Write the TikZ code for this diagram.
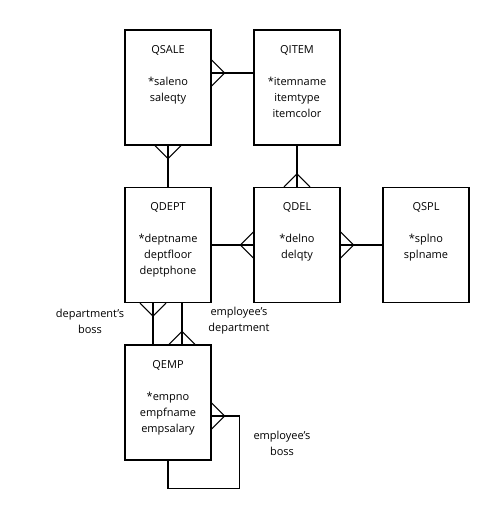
\documentclass[tikz,border=0pt]{standalone}
\usepackage{fontspec}
\setmainfont{Open Sans}
\usetikzlibrary{calc, positioning}

\tikzset{
  entity/.style={draw, line width=1.1pt, minimum width=86pt, minimum height=115pt, inner sep=0pt},
  etext/.style={anchor=north, align=center, inner sep=0pt, font=\fontsize{11}{16}\selectfont},
  link/.style={line width=1.1pt},
  rolelabel/.style={align=center, inner sep=0pt, font=\fontsize{11}{16}\selectfont}
}
\newcommand{\crowfoot}[2]{\draw[link, shift={(#1)}, rotate=#2] (0pt,13pt) -- (13pt,0pt) -- (0pt,-13pt);}

\begin{document}
\begin{tikzpicture}[x=1pt, y=-1pt]
  \useasboundingbox (0,0) rectangle (480,508);

  \node[entity] (qsale) at (168,87.5) {};
  \node[entity] (qitem) at (297,87.5) {};
  \node[entity] (qdept) at (168,245) {};
  \node[entity] (qdel)  at (297,245) {};
  \node[entity] (qspl)  at (426,245) {};
  \node[entity] (qemp)  at (168,402.5) {};

  \node[etext] (qsale-txt) at ([yshift=-15.5pt]qsale.north) {QSALE\\ \\*saleno\\saleqty};
  \node[etext] (qitem-txt) at ([yshift=-15.5pt]qitem.north) {QITEM\\ \\*itemname\\itemtype\\itemcolor};
  \node[etext] (qdept-txt) at ([yshift=-15.5pt]qdept.north) {QDEPT\\ \\*deptname\\deptfloor\\deptphone};
  \node[etext] (qdel-txt)  at ([yshift=-15.5pt]qdel.north)  {QDEL\\ \\*delno\\delqty};
  \node[etext] (qspl-txt)  at ([yshift=-15.5pt]qspl.north)  {QSPL\\ \\*splno\\splname};
  \node[etext] (qemp-txt)  at ([yshift=-15.5pt]qemp.north)  {QEMP\\ \\*empno\\empfname\\empsalary};

  \coordinate (sale-item) at ([yshift=14.5pt]qsale.east);
  \draw[link] (sale-item) -- (sale-item -| qitem.west);
  \crowfoot{sale-item}{0}

  \draw[link] (qsale.south) -- (qdept.north);
  \crowfoot{qsale.south}{-90}

  \draw[link] (qitem.south) -- (qdel.north);
  \crowfoot{qdel.north}{90}

  \draw[link] (qdept.east) -- (qdel.west);
  \crowfoot{qdel.west}{180}

  \draw[link] (qdel.east) -- (qspl.west);
  \crowfoot{qdel.east}{0}

  \coordinate (dept-boss) at ([xshift=-15pt]qdept.south);
  \draw[link] (dept-boss) -- (dept-boss |- qemp.north);
  \crowfoot{dept-boss}{-90}

  \coordinate (emp-dept) at ([xshift=14pt]qemp.north);
  \draw[link] (emp-dept) -- (emp-dept |- qdept.south);
  \crowfoot{emp-dept}{90}

  \coordinate (emp-boss) at ([yshift=-13.5pt]qemp.east);
  \draw[link] (emp-boss) -- ++(28pt,0pt) |- ([yshift=-28pt]qemp.south) -- (qemp.south);
  \crowfoot{emp-boss}{0}

  \node[rolelabel] (lbl-dept-boss) at (90,321) {department's\\boss};
  \node[rolelabel] (lbl-emp-dept) at (239,321) {employee's\\department};
  \node[rolelabel] (lbl-emp-boss) at (282,443) {employee's\\boss};
\end{tikzpicture}
\end{document}
